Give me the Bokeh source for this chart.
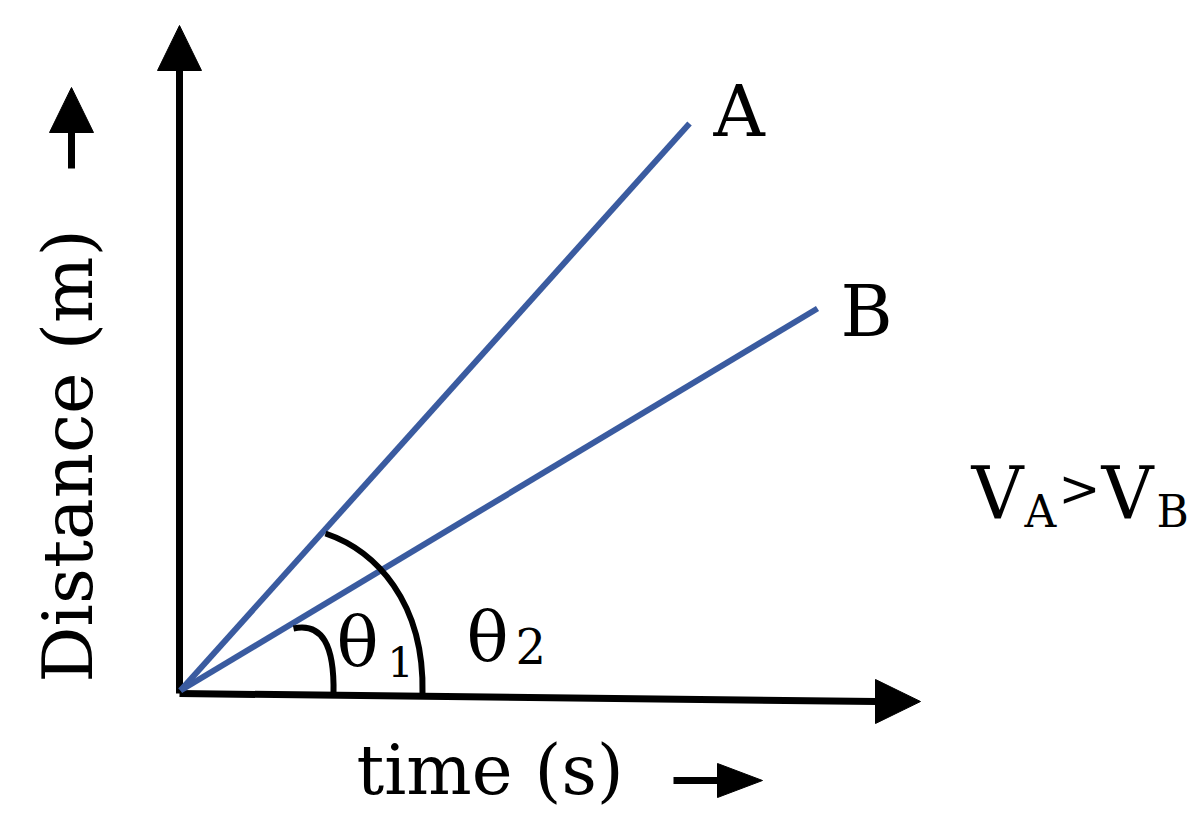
import math
from bokeh.plotting import figure
from bokeh.models import Range1d, ColumnDataSource
from bokeh.core.properties import value
from bokeh.embed import file_html
from bokeh.resources import INLINE

# ---------------- data (chart units, origin = corner of the axes) -------------
line_names = ["A", "B"]
line_t0 = [1, 1]
line_d0 = [3, 3]
line_t1 = [510, 638]          # time at the end of each line
line_d1 = [570, 385]          # distance at the end of each line
label_t = [534, 661]          # label positions (left, baseline)
label_d = [556, 356]

# axis extents
x_axis_t = [0, 697]
x_axis_d = [0, -8]
y_axis_t = [0, 0]
y_axis_d = [0, 623]

# angle marks (cubic curves)
arc_inner = dict(x0=114, y0=65, cx0=143, cy0=71, cx1=155, cy1=48, x1=154, y1=0)
arc_outer = dict(x0=146, y0=160, cx0=196, cy0=143, cx1=245, cy1=92, x1=243, y1=0)

FONT = value("DejaVu Serif")
BLUE = "#3a5ba0"
BASE_SHIFT = 0.37   # renderer baseline offset, in em

W, H = 1200, 835
OX, OY = 179, 693   # image position of the origin
p = figure(width=W, height=H, output_backend="svg", toolbar_location=None,
           x_range=Range1d(-OX, W - OX), y_range=Range1d(OY - H, OY),
           x_axis_location=None, y_axis_location=None, min_border=0)
p.grid.visible = False
p.outline_line_color = None
p.background_fill_color = "white"
p.border_fill_color = "white"

# ---------------- axes with arrowheads ----------------
p.line(x_axis_t, x_axis_d, line_color="black", line_width=7, line_cap="butt")
p.line(y_axis_t, y_axis_d, line_color="black", line_width=7, line_cap="butt")

def head(tip_x, tip_y, dx, dy, length, half):
    n = math.hypot(dx, dy)
    ux, uy = dx / n, dy / n
    bx, by = tip_x - ux * length, tip_y - uy * length
    px, py = -uy, ux
    return ([tip_x, bx + px * half, bx - px * half],
            [tip_y, by + py * half, by - py * half])

heads = [
    head(x_axis_t[1] + 44, x_axis_d[1], 1, 0, 45, 22),
    head(y_axis_t[1], y_axis_d[1] + 45, 0, 1, 45, 22),
]

# small direction arrows next to the axis titles
d_arrow_t = [-108, -108]
d_arrow_d = [525, 561]
t_arrow_t = [494, 538]
t_arrow_d = [-87, -87]
p.line(d_arrow_t, d_arrow_d, line_color="black", line_width=7, line_cap="butt")
p.line(t_arrow_t, t_arrow_d, line_color="black", line_width=7, line_cap="butt")
heads.append(head(d_arrow_t[1], d_arrow_d[1] + 45, 0, 1, 45, 22))
heads.append(head(t_arrow_t[1] + 45, t_arrow_d[1], 1, 0, 45, 17))

p.patches([h[0] for h in heads], [h[1] for h in heads], fill_color="black",
          line_color="black", line_width=1)

# ---------------- lines A and B ----------------
src = ColumnDataSource(dict(x0=line_t0, y0=line_d0, x1=line_t1, y1=line_d1))
p.segment("x0", "y0", "x1", "y1", source=src, line_color=BLUE, line_width=6,
          line_cap="butt")

# ---------------- angle arcs ----------------
for a in (arc_inner, arc_outer):
    p.bezier(x0=[a["x0"]], y0=[a["y0"]], x1=[a["x1"]], y1=[a["y1"]],
             cx0=[a["cx0"]], cy0=[a["cy0"]], cx1=[a["cx1"]], cy1=[a["cy1"]],
             line_color="black", line_width=6)

# ---------------- texts ----------------
def txt(x, y, s, size, align="left", angle=0.0):
    px = int(size.replace("px", ""))
    off = BASE_SHIFT * px
    if angle:
        x = x - off
    else:
        y = y + off
    p.text(x=[x], y=[y], text=[s], text_font=FONT, text_font_size=size,
           text_color="black", text_baseline="alphabetic", text_align=align,
           angle=angle)

for t, d, name in zip(label_t, label_d, line_names):
    txt(t, d, name, "71px")

txt(157, 26, "θ", "70px")
txt(208, 16, "1", "41px")
txt(287, 31, "θ", "70px")
txt(336, 30, "2", "48px")

txt(792, 173, "V", "72px")
txt(845, 166, "A", "44px")
txt(900, 186, ">", "50px", align="center")
txt(922, 173, "V", "72px")
txt(977, 166, "B", "44px")

txt(-86, 11, "Distance (m)", "70px", angle=math.pi / 2)
txt(177, -102, "time (s)", "69px")

open("out.html", "w").write(file_html(p, INLINE))
